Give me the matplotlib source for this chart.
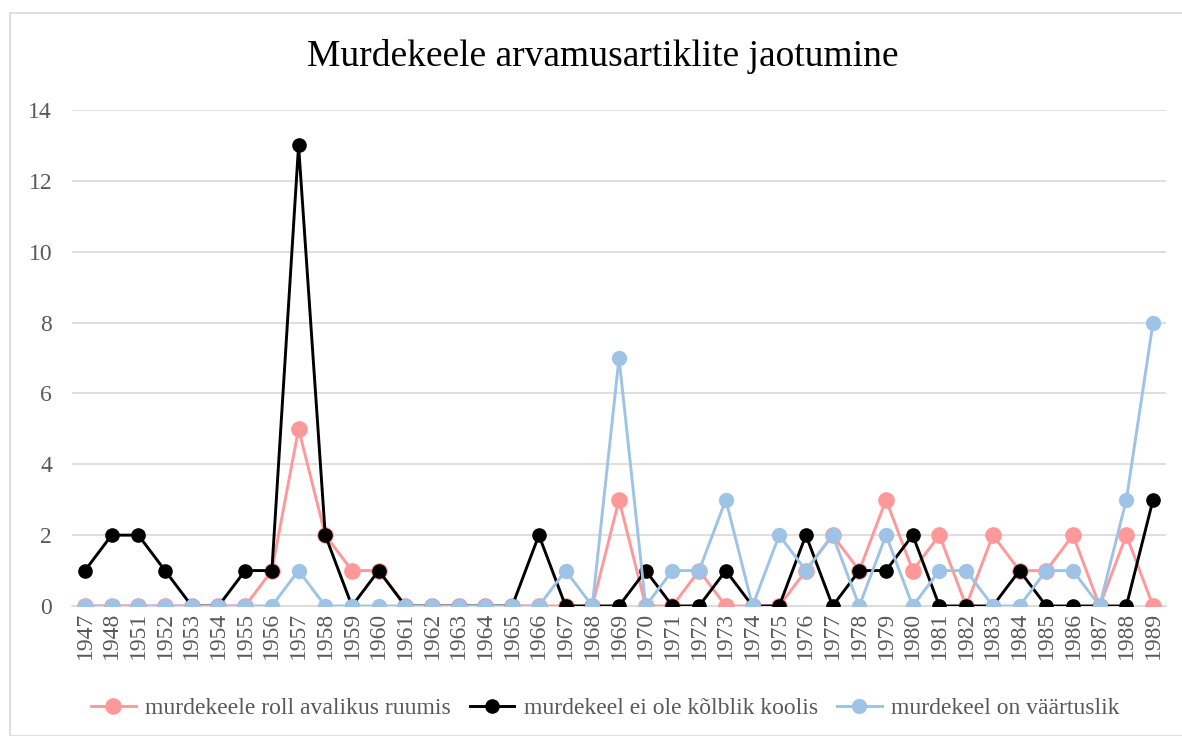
import matplotlib
matplotlib.use("Agg")
import matplotlib.pyplot as plt
from matplotlib.patches import Rectangle
import numpy as np

years = ["1947", "1948", "1951", "1952", "1953", "1954", "1955", "1956", "1957", "1958",
         "1959", "1960", "1961", "1962", "1963", "1964", "1965", "1966", "1967", "1968",
         "1969", "1970", "1971", "1972", "1973", "1974", "1975", "1976", "1977", "1978",
         "1979", "1980", "1981", "1982", "1983", "1984", "1985", "1986", "1987", "1988", "1989"]

roll_avalikus = [0, 0, 0, 0, 0, 0, 0, 1, 5, 2,
                 1, 1, 0, 0, 0, 0, 0, 0, 0, 0,
                 3, 0, 0, 1, 0, 0, 0, 1, 2, 1,
                 3, 1, 2, 0, 2, 1, 1, 2, 0, 2, 0]
ei_kolblik = [1, 2, 2, 1, 0, 0, 1, 1, 13, 2,
              0, 1, 0, 0, 0, 0, 0, 2, 0, 0,
              0, 1, 0, 0, 1, 0, 0, 2, 0, 1,
              1, 2, 0, 0, 0, 1, 0, 0, 0, 0, 3]
vaartuslik = [0, 0, 0, 0, 0, 0, 0, 0, 1, 0,
              0, 0, 0, 0, 0, 0, 0, 0, 1, 0,
              7, 0, 1, 1, 3, 0, 2, 1, 2, 0,
              2, 0, 1, 1, 0, 0, 1, 1, 0, 3, 8]

labels = ["murdekeele roll avalikus ruumis",
          "murdekeel ei ole kõlblik koolis",
          "murdekeel on väärtuslik"]
colors = ["#FF9999", "#000000", "#9DC3E6"]

plt.rcParams['font.family'] = ['Liberation Serif', 'DejaVu Serif']

fig = plt.figure(figsize=(11.82, 7.36), dpi=100)
fig.patches.append(Rectangle((10/1182, 0), 2, 1 - 13/736, transform=fig.transFigure,
                             fill=False, edgecolor="#D9D9D9", linewidth=1.2))

ax = fig.add_axes([71.6/1182, 1 - 606/736, (1166.4 - 71.6)/1182, (606 - 110)/736])
x = np.arange(len(years))

ax.plot(x, roll_avalikus, color=colors[0], lw=2.1, marker='o', ms=11, label=labels[0], zorder=3)
ax.plot(x, ei_kolblik, color=colors[1], lw=2.1, marker='o', ms=9.5, label=labels[1], zorder=4)
ax.plot(x, vaartuslik, color=colors[2], lw=2.1, marker='o', ms=10, label=labels[2], zorder=5)

ax.set_xlim(-0.5, len(years) - 0.5)
ax.set_ylim(0, 14)
ax.set_yticks(range(0, 15, 2))
ax.set_xticks(x)
ax.set_xticklabels(years, rotation=90)
ax.grid(axis='y', color="#D9D9D9", lw=1.2)
ax.set_axisbelow(True)
for s in ['top', 'right', 'left']:
    ax.spines[s].set_visible(False)
ax.spines['bottom'].set_color("#D9D9D9")
ax.spines['bottom'].set_linewidth(1.2)
ax.spines['bottom'].set_zorder(1)
ax.tick_params(axis='both', length=0, labelsize=17, labelcolor="#595959")
ax.tick_params(axis='y', pad=14)
ax.tick_params(axis='x', pad=4)

fig.text(603/1182, 1 - 57/736, "Murdekeele arvamusartiklite jaotumine", ha='center', va='center',
         fontsize=27, color="#000000")

leg = fig.legend(loc='center', bbox_to_anchor=(0.512, 1 - 708/736), ncol=3, frameon=False,
                 fontsize=17, handlelength=1.9, columnspacing=0.8, handletextpad=0.4)
for t in leg.get_texts():
    t.set_color("#595959")

fig.savefig("out.png", dpi=100)
